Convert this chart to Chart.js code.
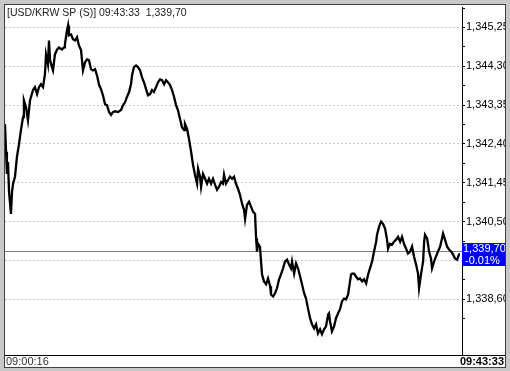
<!DOCTYPE html>
<html>
<head>
<meta charset="utf-8">
<script src="https://cdn.jsdelivr.net/npm/chart.js@4/dist/chart.umd.min.js"></script>
<style>
html,body{margin:0;padding:0;background:#c8c8c8;}
canvas{display:block;}
</style>
</head>
<body>
<canvas id="tickChart" width="510" height="371"></canvas>
<script>
// symbol + session info
const symbol = "[USD/KRW SP (S)]";
const startTime = "09:00:16";
const lastTime = "09:43:33";
const lastPrice = 1339.70;
const prevClose = 1339.79;

// seconds since 09:00:16
const secs = [
0,6,11,17,23,34,40,46,57,68,
80,91,103,108,120,131,143,160,171,183,
194,205,217,228,234,245,251,257,268,274,
285,297,308,325,337,342,354,360,365,377,
388,400,411,422,434,445,457,468,479,491,
502,514,525,537,548,559,571,582,594,605,
616,628,645,662,674,685,696,708,719,725,
736,748,759,771,782,793,805,816,828,839,
850,862,873,885,896,908,919,930,942,953,
965,976,987,999,1010,1022,1027,1039,1050,1062,
1073,1084,1096,1102,1113,1119,1130,1142,1153,1164,
1176,1187,1199,1210,1221,1233,1244,1250,1261,1273,
1284,1296,1307,1318,1330,1341,1353,1364,1370,1381,
1393,1404,1416,1427,1433,1438,1444,1455,1461,1467,
1478,1490,1501,1513,1518,1530,1541,1552,1564,1575,
1587,1598,1610,1621,1632,1638,1650,1661,1672,1684,
1695,1707,1718,1729,1741,1752,1764,1775,1786,1798,
1809,1821,1832,1844,1849,1855,1866,1878,1889,1901,
1912,1923,1935,1946,1958,1969,1975,1981,1992,2003,
2015,2026,2038,2049,2061,2072,2083,2095,2106,2118,
2123,2135,2146,2157,2169,2180,2186,2197,2209,2220,
2232,2243,2255,2266,2277,2289,2300,2312,2323,2334,
2346,2357,2363,2374,2386,2392,2397,2409,2420,2431,
2437,2449,2460,2471,2483,2494,2500,2511,2523,2534,
2546,2557,2568,2580,2591,2597
];

// price at each of those seconds
const prices = [
1342.89,1342.21,1341.67,1341.96,1341.23,1340.69,1341.23,1341.43,1341.60,1342.08,
1342.40,1342.74,1343.06,1343.47,1343.30,1342.98,1343.47,1343.72,1343.79,1343.62,
1343.79,1343.86,1343.79,1344.11,1344.59,1344.35,1344.93,1344.45,1344.28,1344.20,
1344.59,1344.71,1344.76,1344.71,1344.76,1344.84,1345.18,1345.30,1345.06,1345.08,
1344.96,1344.93,1345.01,1344.81,1344.69,1344.20,1344.40,1344.47,1344.45,1344.23,
1344.20,1344.23,1344.08,1343.84,1343.74,1343.59,1343.37,1343.35,1343.18,1343.11,
1343.18,1343.20,1343.18,1343.23,1343.35,1343.42,1343.55,1343.67,1343.86,1344.08,
1344.28,1344.32,1344.28,1344.20,1344.03,1343.91,1343.74,1343.59,1343.62,1343.72,
1343.67,1343.79,1343.91,1343.98,1343.96,1343.86,1343.96,1343.91,1343.84,1343.72,
1343.55,1343.35,1343.23,1343.01,1342.81,1342.74,1342.89,1342.77,1342.52,1342.21,
1341.89,1341.65,1341.43,1341.79,1341.60,1341.35,1341.67,1341.55,1341.43,1341.55,
1341.43,1341.55,1341.40,1341.28,1341.35,1341.47,1341.43,1341.65,1341.43,1341.52,
1341.60,1341.55,1341.60,1341.43,1341.30,1341.16,1340.94,1340.79,1340.57,1340.91,
1340.99,1340.87,1340.74,1340.69,1340.09,1339.77,1339.96,1339.89,1339.53,1339.21,
1339.04,1338.97,1339.11,1338.92,1338.72,1338.67,1338.75,1338.87,1339.09,1339.21,
1339.36,1339.53,1339.57,1339.45,1339.36,1339.53,1339.23,1339.48,1339.36,1339.16,
1338.97,1338.75,1338.62,1338.38,1338.14,1337.99,1337.89,1337.99,1337.77,1337.87,
1337.75,1337.87,1337.94,1338.23,1338.26,1338.06,1337.82,1337.94,1338.14,1338.26,
1338.36,1338.55,1338.62,1338.60,1338.72,1339.04,1339.21,1339.23,1339.23,1339.16,
1339.09,1339.11,1339.04,1339.09,1338.99,1339.21,1339.36,1339.53,1339.77,1340.01,
1340.18,1340.38,1340.50,1340.45,1340.33,1340.06,1339.84,1339.96,1339.94,1340.01,
1340.06,1340.13,1340.01,1340.13,1339.96,1339.84,1339.72,1339.77,1339.89,1339.65,
1339.45,1339.23,1338.87,1339.21,1339.53,1340.01,1340.18,1340.09,1339.77,1339.60,
1339.36,1339.53,1339.65,1339.77,1339.89,1340.09,1340.21,1340.06,1339.89,1339.82,
1339.77,1339.70,1339.60,1339.57,1339.70,1339.70
];

// right axis labels
const majorTicks = [1338.60,1339.55,1340.50,1341.45,1342.40,1343.35,1344.30,1345.25];

const yMin = 1337.24;
const yMax = 1345.735;
const xMax = 2608;

const FONT = "Liberation Sans, Arial, sans-serif";

function fmt(v){
  const parts = v.toFixed(2).split(".");
  return parts[0].replace(/\B(?=(\d{3})+(?!\d))/g, ",") + "," + parts[1];
}

function toSec(t){
  const p = t.split(":").map(Number);
  return p[0]*3600 + p[1]*60 + p[2];
}
function toClock(s){
  const pad = n => String(n).padStart(2, "0");
  return pad(Math.floor(s/3600)) + ":" + pad(Math.floor(s/60)%60) + ":" + pad(s%60);
}

// major ticks plus minor ticks half way between
const step = majorTicks[1] - majorTicks[0];
const axisTicks = [];
majorTicks.forEach(v => {
  axisTicks.push({value: v - step/2, minor: true});
  axisTicks.push({value: v, minor: false});
});
axisTicks.push({value: majorTicks[majorTicks.length-1] + step/2, minor: true});

const points = secs.map((s, i) => ({x: s, y: prices[i]}));

const framePlugin = {
  id: "frame",
  beforeDraw(chart){
    const c = chart.ctx;
    c.save();
    c.fillStyle = "#c8c8c8";
    c.fillRect(0, 0, chart.width, chart.height);
    c.fillStyle = "#ffffff";
    c.fillRect(5, 5, 500, 362);
    c.restore();
  },
  beforeDatasetsDraw(chart){
    const c = chart.ctx;
    const a = chart.chartArea;
    const y = Math.round(chart.scales.y.getPixelForValue(prevClose)) + 0.5;
    c.save();
    c.strokeStyle = "#808080";
    c.lineWidth = 1;
    c.beginPath();
    c.moveTo(a.left, y);
    c.lineTo(a.right, y);
    c.stroke();
    c.restore();
  },
  afterDraw(chart){
    const c = chart.ctx;
    const a = chart.chartArea;
    const yScale = chart.scales.y;
    c.save();

    // last price box
    const py = Math.round(yScale.getPixelForValue(lastPrice));
    c.fillStyle = "#0000ff";
    c.fillRect(a.right, py - 11, 505 - a.right, 23);
    c.fillStyle = "#ffffff";
    c.font = "11px " + FONT;
    c.textBaseline = "middle";
    c.textAlign = "left";
    c.fillText(fmt(lastPrice), a.right + 1, py - 5);
    const pct = (lastPrice - prevClose) / prevClose * 100;
    c.fillText(pct.toFixed(2) + "%", a.right + 3, py + 7);

    // title
    c.fillStyle = "#202020";
    c.font = "10.5px " + FONT;
    c.fillText(symbol + " " + lastTime + "  " + fmt(lastPrice), 7, 13);

    // time strip
    c.strokeStyle = "#000000";
    c.lineWidth = 1;
    c.beginPath();
    c.moveTo(5, a.bottom + 0.5);
    c.lineTo(505, a.bottom + 0.5);
    c.stroke();
    c.font = "11px " + FONT;
    c.fillStyle = "#303030";
    c.fillText(startTime, 6, 362);
    c.font = "bold 11px " + FONT;
    c.textAlign = "right";
    c.fillStyle = "#000000";
    c.fillText(toClock(toSec(startTime) + secs[secs.length-1]), 504, 362);

    // window frame
    c.fillStyle = "#c8c8c8";
    c.fillRect(505, 0, 5, chart.height);
    c.fillRect(0, 367, chart.width, 4);
    c.strokeStyle = "#404040";
    c.strokeRect(4.5, 4.5, 501, 363);
    c.restore();
  }
};

const ctx = document.getElementById("tickChart").getContext("2d");

new Chart(ctx, {
  type: "line",
  data: {
    datasets: [{
      data: points,
      borderColor: "#000000",
      borderWidth: 2.3,
      pointRadius: 0,
      tension: 0,
      fill: false
    }]
  },
  options: {
    responsive: false,
    animation: false,
    devicePixelRatio: 1,
    layout: {padding: {left: 5, top: 5, right: 0, bottom: 16}},
    plugins: {legend: {display: false}, tooltip: {enabled: false}, title: {display: false}},
    scales: {
      x: {
        type: "linear",
        display: false,
        min: 0,
        max: xMax
      },
      y: {
        position: "right",
        min: yMin,
        max: yMax,
        afterFit(scale){ scale.width = 48; },
        afterBuildTicks(scale){ scale.ticks = axisTicks.map(t => ({value: t.value, minor: t.minor})); },
        border: {display: true, color: "#000000", width: 1, dash: [2, 2]},
        grid: {
          drawOnChartArea: true,
          drawTicks: true,
          tickLength: 3,
          color: c => (c.tick && c.tick.minor) ? "rgba(0,0,0,0)" : "#c8c8c8",
          tickColor: "#000000"
        },
        ticks: {
          autoSkip: false,
          padding: 1,
          color: "#000000",
          font: {family: FONT, size: 11},
          callback: (v, i, ticks) => ticks[i].minor ? "" : fmt(v)
        }
      }
    }
  },
  plugins: [framePlugin]
});
</script>
</body>
</html>
